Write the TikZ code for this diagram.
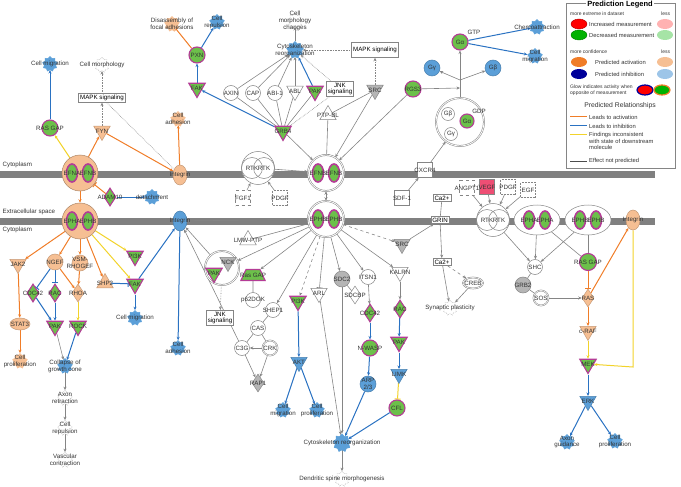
\documentclass[tikz,border=0pt]{standalone}
\usepackage{fontspec}
\setmainfont{Liberation Sans}
\usetikzlibrary{shapes.geometric,arrows.meta}
\definecolor{cgreen}{HTML}{6CC04A}
\definecolor{cmag}{HTML}{B43C96}
\definecolor{clor}{HTML}{F6BF93}
\definecolor{cor}{HTML}{F07D28}
\definecolor{clbl}{HTML}{5B9FD8}
\definecolor{cbl}{HTML}{2A72C2}
\definecolor{cyel}{HTML}{F2D32B}
\definecolor{cgrn}{HTML}{B5B5B5}
\definecolor{cln}{HTML}{858585}
\definecolor{cbar}{HTML}{808080}
\definecolor{cvegf}{HTML}{EE4E74}
\newcommand\fs{\fontsize{6.2}{6.8}\selectfont}
\newcommand\fss{\fontsize{5}{5.6}\selectfont}
\newcommand\fsl{\fontsize{5.8}{6.6}\selectfont}
\pgfdeclarelayer{bglayer}\pgfdeclarelayer{edgelayer}
\pgfsetlayers{bglayer,edgelayer,main}
\tikzset{
 >={Stealth[length=3.5pt,width=3pt]},
 every label/.style={font=\fs,inner sep=0pt,align=center,text=black!80},
 mol/.style={inner sep=0pt,line width=0.5pt},
 gcirc/.style={mol,circle,minimum size=16pt,fill=cgreen,draw=cmag,line width=1.1pt},
 wcirc/.style={mol,circle,minimum size=15pt,fill=white,draw=cln},
 bcirc/.style={mol,circle,minimum size=16pt,fill=clbl,draw=clbl!80!black},
 ocirc/.style={mol,circle,minimum size=16pt,fill=clor,draw=clor!80!black},
 gycirc/.style={mol,circle,minimum size=16pt,fill=cgrn,draw=cln},
 tdown/.style={mol,regular polygon,regular polygon sides=3,shape border rotate=180,minimum size=19pt},
 tup/.style={mol,regular polygon,regular polygon sides=3,minimum size=19pt},
 gtri/.style={tdown,fill=cgreen,draw=cmag,line width=1.1pt},
 otri/.style={tdown,fill=clor,draw=clor!80!black},
 btri/.style={tdown,fill=clbl,draw=clbl!80!black},
 wtri/.style={tdown,fill=white,draw=cln},
 gytri/.style={tdown,fill=cgrn,draw=cln},
 wtup/.style={tup,fill=white,draw=cln},
 otup/.style={tup,fill=clor,draw=clor!80!black},
 dia/.style={mol,diamond,minimum width=12pt,minimum height=18pt},
 gdia/.style={dia,fill=cgreen,draw=cmag,line width=1.1pt},
 odia/.style={dia,fill=clor,draw=clor!80!black},
 wdia/.style={dia,fill=white,draw=cln},
 gydia/.style={dia,fill=cgrn,draw=cln},
 gear/.style={mol,star,star points=9,star point ratio=1.3,minimum size=15pt},
 bgear/.style={gear,fill=clbl,draw=clbl},
 ogear/.style={gear,fill=clor,draw=clor},
 wgear/.style={gear,fill=white,draw=cln!70,densely dotted},
 box/.style={rectangle,draw=cln,fill=white,inner sep=1.5pt,font=\fs,align=center,line width=0.5pt},
 sqbox/.style={mol,rectangle,draw=cln,fill=white,minimum size=15pt},
 txt/.style={font=\fs,inner sep=0.5pt,text=black!80},
 cpo/.style={mol,circle,minimum size=36pt,fill=clor,draw=clor!70!black},
 cpw/.style={mol,circle,minimum size=36pt,fill=white,draw=cln,double,double distance=0.8pt},
 cpe/.style={mol,ellipse,minimum width=46pt,minimum height=30pt,fill=white,draw=cln},
 gell/.style={mol,ellipse,minimum width=11pt,minimum height=18pt,fill=cgreen,draw=cmag,line width=1.6pt},
 integ/.style={mol,ellipse,minimum width=14pt,minimum height=20pt},
 rtkin/.style={mol,circle,draw=cln,minimum size=21pt},
 ge/.style={draw=cln,line width=0.6pt,->},
 be/.style={draw=cbl,line width=1pt,->},
 oe/.style={draw=cor,line width=1pt,->},
 ye/.style={draw=cyel,line width=1pt,->},
 inh/.style={-{Bar[width=6pt]}},
 lege/.style={ellipse,minimum width=16pt,minimum height=10pt,inner sep=0pt},
 legt/.style={font=\fss,anchor=west,inner sep=0pt,text=black!80,align=left},
}
\begin{document}
\begin{tikzpicture}[x=1pt,y=-1pt]
\useasboundingbox (0,0) rectangle (681,487);
\begin{pgfonlayer}{bglayer}
\draw[cbar,line width=7pt] (0,174) -- (655,174);
\draw[cbar,line width=7pt] (0,221) -- (655,221);
\end{pgfonlayer}
% membrane labels
\node[txt,anchor=west] (tcy1) at (2,165) {Cytoplasm};
\node[txt,anchor=west] (tex) at (2,212) {Extracellular space};
\node[txt,anchor=west] (tcy2) at (2,230) {Cytoplasm};
% top-left
\node[bgear,label={center:Cell migration}] (cmig1) at (50,64) {};
\node[gcirc,label={center:RAS GAP}] (rasgap1) at (50,128) {};
\node[wgear,label={center:Cell morphology}] (cmorph) at (102,65) {};
\node[box] (mapk1) at (102,98) {MAPK signaling};
\node[otri,label={center:FYN}] (fyn) at (102,131) {};
\node[ogear,label={center:Cell\\adhesion}] (cadh1) at (178,119) {};
\node[ogear,label={center:Disassembly of\\focal adhesions}] (disas) at (172,24) {};
\node[bgear,label={center:Cell\\repulsion}] (crep1) at (217,22) {};
\node[gcirc,label={center:PXN}] (pxn) at (197,55) {};
\node[gtri,label={center:FAK}] (fak1) at (197,88) {};
% top-middle
\node[wgear,label={center:Cell\\morphology\\changes}] (cmc) at (295,21) {};
\node[bgear,minimum size=17pt,label={center:Cytoskeleton\\reorganization}] (cytre1) at (295,50) {};
\node[wcirc,label={center:AXIN}] (axin) at (231,93) {};
\node[wcirc,label={center:CAP}] (cap) at (253,93) {};
\node[wcirc,label={center:ABI-1}] (abi1) at (275,93) {};
\node[wtri,label={center:ABL}] (abl) at (295,91) {};
\node[gtri,label={center:PAK}] (pak1) at (315,91) {};
\node[box] (jnk1) at (340,89) {JNK\\signaling};
\node[box,minimum width=47pt,minimum height=15pt] (mapk2) at (375,50) {MAPK signaling};
\node[gytri,label={center:SRC}] (src1) at (375,90) {};
\node[wtup,label={center:PTP-BL}] (ptpbl) at (328,115) {};
\node[gtri,label={center:GRB4}] (grb4) at (283,131) {};
\node[gcirc,label={center:RGS3}] (rgs3) at (413,89) {};
\node[bcirc,label={center:Gγ}] (ggam1) at (432,68) {};
\node[gcirc,label={center:Gα}] (galpha1) at (460,42) {};
\node[txt] (gtp) at (474,32) {GTP};
\node[bcirc,label={center:Gβ}] (gbeta1) at (493,68) {};
\node[wcirc,minimum size=48pt,double,double distance=0.8pt] (gcpx) at (460,122) {};
\node[wcirc,minimum size=13pt,label={center:Gβ}] (gb2) at (448,114) {};
\node[gcirc,minimum size=14pt,label={center:Gα}] (ga2) at (467,121) {};
\node[txt] (gdp) at (479,111) {GDP};
\node[wcirc,minimum size=13pt,label={center:Gγ}] (gg2) at (451,134) {};
\node[bgear,label={center:Chemoattraction}] (chemo) at (537,27) {};
\node[bgear,label={center:Cell\\migration}] (cmig2) at (535,56) {};
\coordinate (jct) at (460,80);
\coordinate (jct2) at (460,88);
% membrane complexes
\node[cpo] (cplx1) at (80,173) {};
\node[gell,label={center:EFNA}] (cplx1a) at (72,173) {};
\node[gell,label={center:EFNB}] (cplx1b) at (88,173) {};
\node[cpo] (cplx2) at (80,221) {};
\node[gell,label={center:EPHA}] (cplx2a) at (72,221) {};
\node[gell,label={center:EPHB}] (cplx2b) at (88,221) {};
\node[gdia,label={center:ADAM10}] (adam10) at (110,197) {};
\node[bgear,label={center:detachment}] (detach) at (152,197) {};
\node[integ,fill=clor,draw=clor!80!black,label={center:Integrin}] (integ1) at (180,175) {};
\node[integ,fill=clbl,draw=clbl!80!black,label={center:Integrin}] (integ2) at (180,221) {};
\node[wcirc,minimum size=33pt] (rtk1) at (258,168) {};
\node[rtkin,label={center:RTK}] (rtk1a) at (252,168) {};
\node[rtkin,label={center:RTK}] (rtk1b) at (264,168) {};
\node[sqbox,dashed,label={center:FGF1}] (fgf1) at (243,198) {};
\node[sqbox,densely dotted,label={center:PDGF}] (pdgf1) at (280,198) {};
\node[cpw] (cplx3) at (326,173) {};
\node[gell,label={center:EFNB}] (cplx3a) at (318,173) {};
\node[gell,label={center:EFNB}] (cplx3b) at (334,173) {};
\node[cpw] (cplx4) at (326,219) {};
\node[gell,label={center:EPHB}] (cplx4a) at (318,219) {};
\node[gell,label={center:EPHB}] (cplx4b) at (334,219) {};
\node[sqbox,label={center:CXCR4}] (cxcr4) at (425,170) {};
\node[sqbox,label={center:SDF-1}] (sdf1) at (402,198) {};
\node[box] (ca1) at (442,198) {Ca2+};
\node[box] (grin) at (440,220) {GRIN};
\node[box] (ca2) at (442,262) {Ca2+};
\node[mol,ellipse,minimum width=20pt,minimum height=11pt,draw=cln,fill=white,double,label={center:CREB}] (creb) at (473,283) {};
\node[wgear,label={center:Synaptic plasticity}] (synp) at (450,308) {};
% right
\node[sqbox,dashed,label={center:ANGPT1}] (angpt1) at (467,188) {};
\node[sqbox,fill=cvegf,label={center:VEGF}] (vegf) at (487,187) {};
\node[sqbox,densely dotted,label={center:PDGF}] (pdgf2) at (508,187) {};
\node[sqbox,densely dotted,label={center:EGF}] (egf) at (528,190) {};
\node[wcirc,minimum size=33pt] (rtk2) at (493,220) {};
\node[rtkin,label={center:RTK}] (rtk2a) at (487,220) {};
\node[rtkin,label={center:RTK}] (rtk2b) at (499,220) {};
\node[cpe] (cplx5) at (537,220) {};
\node[gell,label={center:EPHA}] (cplx5a) at (529,220) {};
\node[gell,label={center:EPHA}] (cplx5b) at (545,220) {};
\node[cpe] (cplx6) at (588,220) {};
\node[gell,label={center:EPHB}] (cplx6a) at (580,220) {};
\node[gell,label={center:EPHB}] (cplx6b) at (596,220) {};
\node[integ,fill=clor,draw=clor!80!black,label={center:Integrin}] (integ3) at (633,220) {};
\node[wcirc,label={center:SHC}] (shc) at (535,267) {};
\node[gycirc,label={center:GRB2}] (grb2) at (523,285) {};
\node[wcirc,double,label={center:SOS}] (sos) at (541,298) {};
\node[gcirc,minimum size=17pt,label={center:RAS GAP}] (rasgap2) at (588,262) {};
\node[odia,label={center:RAS}] (ras) at (588,298) {};
\node[otri,label={center:c-RAF}] (craf) at (588,331) {};
\node[gtri,label={center:MEK}] (mek) at (588,364) {};
\node[btri,label={center:ERK}] (erk) at (588,401) {};
\node[bgear,label={center:Axon\\guidance}] (axg) at (567,442) {};
\node[bgear,label={center:Cell\\proliferation}] (cprol2) at (615,441) {};
\coordinate (ycorner) at (633,367);
% lower left
\node[otri,label={center:JAK2}] (jak2) at (18,264) {};
\node[ocirc,label={center:NGEF}] (ngef) at (55,262) {};
\node[ocirc,label={center:VSM-\\RHOGEF}] (vsm) at (80,263) {};
\node[gtri,label={center:PI3K}] (pi3k1) at (135,256) {};
\node[otup,label={center:SHP2}] (shp2) at (105,283) {};
\node[gtri,label={center:FAK}] (fak2) at (135,284) {};
\node[gdia,label={center:CDC42}] (cdc42a) at (33,293) {};
\node[gdia,label={center:RAC}] (rac1) at (55,293) {};
\node[odia,label={center:RHOA}] (rhoa) at (78,293) {};
\node[bgear,label={center:Cell migration}] (cmig3) at (135,318) {};
\node[mol,ellipse,minimum width=20pt,minimum height=12pt,fill=clor,draw=clor!80!black,label={center:STAT3}] (stat3) at (20,324) {};
\node[gtri,label={center:PAK}] (pak2) at (55,326) {};
\node[gtri,label={center:ROCK}] (rock) at (78,326) {};
\node[ogear,label={center:Cell\\proliferation}] (cprol1) at (20,361) {};
\node[bgear,label={center:Collapse of\\growth cone}] (collapse) at (65,366) {};
\node[wgear,label={center:Axon\\retraction}] (axret) at (65,398) {};
\node[wgear,label={center:Cell\\repulsion}] (crep2) at (65,428) {};
\node[wgear,label={center:Vascular\\contraction}] (vasc) at (65,460) {};
\node[bgear,label={center:Cell\\adhesion}] (cadh2) at (178,348) {};
% lower middle
\node[wtup,label={center:LMW-PTP}] (lmw) at (248,240) {};
\node[wcirc,minimum size=34pt,double,double distance=0.8pt] (nck) at (222,268) {};
\node[gytri,label={center:NCK}] (nckn) at (228,262) {};
\node[gtri,label={center:PAK}] (nckp) at (214,273) {};
\node[mol,trapezium,trapezium left angle=65,trapezium right angle=65,fill=cgreen,draw=cmag,line width=1.1pt,inner sep=1pt,label={center:Ras GAP}] (rasgap3) at (253,275) {\rule{12pt}{0pt}\rule{0pt}{9pt}};
\node[wcirc,label={center:p62DOK}] (p62) at (253,300) {};
\node[wcirc,label={center:SHEP1}] (shep1) at (273,310) {};
\node[box] (jnk2) at (220,318) {JNK\\signaling};
\node[wcirc,label={center:CAS}] (cas) at (258,328) {};
\node[wcirc,label={center:C3G}] (c3g) at (242,348) {};
\node[wcirc,double,label={center:CRK}] (crk) at (270,348) {};
\node[gydia,label={center:RAP1}] (rap1) at (258,383) {};
\node[gtri,label={center:PI3K}] (pi3k2) at (298,301) {};
\node[wtri,label={center:ARL}] (arl) at (319,293) {};
\node[gycirc,label={center:SDC2}] (sdc2) at (342,279) {};
\node[wdia,label={center:SDCBP}] (sdcbp) at (355,295) {};
\node[wcirc,label={center:ITSN1}] (itsn1) at (368,277) {};
\node[gdia,label={center:CDC42}] (cdc42b) at (370,313) {};
\node[gcirc,label={center:N-WASP}] (nwasp) at (370,348) {};
\node[bcirc,label={center:ARP\\2/3}] (arp) at (368,384) {};
\node[wtri,label={center:KALRN}] (kalrn) at (400,272) {};
\node[gdia,label={center:RAC}] (rac2) at (400,309) {};
\node[gtri,label={center:PAK}] (pak3) at (399,342) {};
\node[btri,label={center:LIMK}] (limk) at (399,374) {};
\node[gcirc,label={center:CFL}] (cfl) at (397,408) {};
\node[btri,label={center:AKT}] (akt) at (299,362) {};
\node[bgear,label={center:Cell\\migration}] (cmig4) at (283,410) {};
\node[bgear,label={center:Cell\\proliferation}] (cprol3) at (317,410) {};
\node[bgear,minimum size=18pt,label={center:Cytoskeleton reorganization}] (cytre2) at (342,443) {};
\node[wgear,label={center:Dendritic spine morphogenesis}] (dsm) at (342,479) {};
\node[gytri,label={center:SRC}] (src2) at (402,244) {};
% legend
\node[draw=cln,line width=0.5pt,minimum width=109pt,minimum height=165pt,anchor=north west,inner sep=0pt] (legbox) at (566,3) {};
\node[fill=white,font=\bfseries\fontsize{7.5}{8}\selectfont,inner sep=1pt] (legtitle) at (620,5) {Prediction Legend};
\node[legt] (l1) at (570,14) {more extreme in dataset};
\node[legt] (l1b) at (661,14) {less};
\node[lege,fill=red,draw=red!70!black] (e1) at (579,24) {};
\node[legt,font=\fsl] (t1) at (589,24) {Increased measurement};
\node[lege,fill=red!30] (e1b) at (665,24) {};
\node[lege,fill=green!70!black,draw=green!50!black] (e2) at (579,35) {};
\node[legt,font=\fsl] (t2) at (589,35) {Decreased measurement};
\node[lege,fill=green!70!black!35] (e2b) at (665,35) {};
\node[legt] (l2) at (570,52) {more confidence};
\node[legt] (l2b) at (661,52) {less};
\node[lege,fill=cor] (e3) at (579,62) {};
\node[legt,font=\fsl] (t3) at (595,62) {Predicted activation};
\node[lege,fill=clor] (e3b) at (665,62) {};
\node[lege,fill=blue!60!black] (e4) at (579,74) {};
\node[legt,font=\fsl] (t4) at (595,74) {Predicted inhibition};
\node[lege,fill=clbl!60] (e4b) at (665,74) {};
\node[legt] (t5) at (570,90) {Glow indicates activity when\\opposite of measurement};
\node[lege,fill=red,draw=blue!60!black,line width=1.2pt] (e5) at (645,90) {};
\node[lege,fill=green!70!black,draw=cor,line width=1.2pt] (e6) at (662,90) {};
\node[font=\fontsize{6.8}{7.5}\selectfont,text=black!80] (t6) at (620,106) {Predicted Relationships};
\draw[cor,line width=1pt] (570,117) -- (587,117);
\node[legt,font=\fsl] (t7) at (589,117) {Leads to activation};
\draw[cbl,line width=1pt] (570,126) -- (587,126);
\node[legt,font=\fsl] (t8) at (589,126) {Leads to inhibition};
\draw[cyel,line width=1pt] (570,135) -- (587,135);
\node[legt,font=\fsl,anchor=north west] (t9) at (589,132) {Findings inconsistent\\with state of downstream\\molecule};
\draw[black!70,line width=1pt] (570,161) -- (587,161);
\node[legt,font=\fsl] (t10) at (589,161) {Effect not predicted};
% edges
\begin{pgfonlayer}{edgelayer}
\draw[be] (rasgap1) -- (cmig1);
\draw[ye] (cplx1) -- (rasgap1);
\draw[oe] (cplx1) -- (fyn);
\draw[ge,densely dotted] (fyn) -- (mapk1);
\draw[ge,densely dotted] (mapk1) -- (cmorph);
\draw[ge,densely dotted,-] (mapk1) -- (integ1);
\draw[oe] (fyn) -- (integ1);
\draw[oe] (integ1) -- (cadh1);
\draw[oe] (cplx1) -- (cplx2);
\draw[oe,inh] (adam10) -- (cplx1);
\draw[be] (adam10) -- (detach);
\draw[oe,inh] (pxn) -- (disas);
\draw[be] (pxn) -- (crep1);
\draw[be] (fak1) -- (pxn);
\draw[be] (grb4) -- (fak1);
\draw[ge,-] (grb4) -- (axin);
\draw[ge,-] (grb4) -- (cap);
\draw[ge,-] (grb4) -- (abi1);
\draw[ge,-] (grb4) -- (abl);
\draw[ge,-] (grb4) -- (pak1);
\draw[ge,-,densely dotted] (grb4) -- (jnk1);
\draw[ge] (axin) -- (cytre1);
\draw[ge] (cap) -- (cytre1);
\draw[ge] (abi1) -- (cytre1);
\draw[ge] (abl) -- (cytre1);
\draw[be] (pak1) -- (cytre1);
\draw[ge,densely dotted] (jnk1) -- (cytre1);
\draw[ge,densely dotted] (mapk2) -- (cytre1);
\draw[ge] (cytre1) -- (cmc);
\draw[ge,densely dotted] (src1) -- (mapk2);
\draw[ge,-] (ptpbl) -- (src1);
\draw[ge,inh] (ptpbl) -- (cplx3);
\draw[ge] (grb4) -- (cplx3);
\draw[ge] (src1) -- (cplx3);
\draw[ge] (rgs3) -- (cplx3);
\draw[ge] (rgs3) -- (jct2);
\draw[ge,-] (gcpx) -- (jct);
\draw[ge] (jct) -- (galpha1);
\draw[ge] (jct) -- (ggam1);
\draw[ge] (jct) -- (gbeta1);
\draw[be] (galpha1) -- (chemo);
\draw[be] (galpha1) -- (cmig2);
\draw[ge] (cxcr4) -- (gcpx);
\draw[ge] (sdf1) -- (cxcr4);
\draw[ge] (rtk1) -- (cplx3);
\draw[ge] (fgf1) -- (rtk1);
\draw[ge] (pdgf1) -- (rtk1);
\draw[ge,<->] (cplx3) -- (cplx4);
% from lower middle complex
\draw[ge] (cplx4) -- (integ2);
\draw[ge,-] (cplx4) -- (lmw);
\draw[ge] (cplx4) -- (nck);
\draw[ge] (cplx4) -- (rasgap3);
\draw[ge] (cplx4) -- (shep1);
\draw[ge,dashed] (cplx4) -- (pi3k2);
\draw[ge,inh] (cplx4) -- (arl);
\draw[ge] (cplx4) -- (sdc2);
\draw[ge] (cplx4) -- (itsn1);
\draw[ge] (cplx4) -- (kalrn);
\draw[ge,dashed] (cplx4) -- (src2);
\draw[ge] (src2) -- (grin);
\draw[ge,-] (ca1) -- (grin);
\draw[ge] (grin) -- (ca2);
\draw[ge] (ca2) -- (synp);
\draw[ge,dashed] (ca2) -- (creb);
\draw[ge] (creb) -- (synp);
\draw[ge] (nck) -- (integ2);
\draw[ge] (c3g) -- (integ2);
\draw[ge,densely dotted] (nck) -- (jnk2);
\draw[be] (integ2) -- (cadh2);
\draw[be] (fak2) -- (integ2);
\draw[ge,-] (rasgap3) -- (p62);
\draw[ge,-] (shep1) -- (cas);
\draw[ge,-] (cas) -- (c3g);
\draw[ge,-] (cas) -- (crk);
\draw[ge] (crk) -- (c3g);
\draw[ge] (c3g) -- (rap1);
\draw[ge] (crk) -- (rap1);
\draw[be] (pi3k2) -- (akt);
\draw[be] (akt) -- (cmig4);
\draw[be] (akt) -- (cprol3);
\draw[ge] (arl) -- (cytre2);
\draw[ge] (sdc2) -- (cytre2);
\draw[ge,-] (sdc2) -- (sdcbp);
\draw[ge] (itsn1) -- (cdc42b);
\draw[be] (cdc42b) -- (nwasp);
\draw[be] (nwasp) -- (arp);
\draw[be] (arp) -- (cytre2);
\draw[ge] (kalrn) -- (rac2);
\draw[be] (rac2) -- (pak3);
\draw[be] (pak3) -- (limk);
\draw[ye,inh] (limk) -- (cfl);
\draw[be] (cfl) -- (cytre2);
\draw[ge] (cytre2) -- (dsm);
% lower left
\draw[oe] (cplx2) -- (jak2);
\draw[oe] (cplx2) -- (ngef);
\draw[oe] (cplx2) -- (vsm);
\draw[oe] (cplx2) -- (shp2);
\draw[ye] (cplx2) -- (pi3k1);
\draw[ye] (cplx2) -- (fak2);
\draw[be,inh] (ngef) -- (cdc42a);
\draw[be,inh] (ngef) -- (rac1);
\draw[oe] (ngef) -- (rhoa);
\draw[oe] (vsm) -- (rhoa);
\draw[be,inh] (shp2) -- (fak2);
\draw[be] (fak2) -- (cmig3);
\draw[oe] (jak2) -- (stat3);
\draw[oe] (stat3) -- (cprol1);
\draw[be] (cdc42a) -- (pak2);
\draw[be] (rac1) -- (pak2);
\draw[ye] (rhoa) -- (rock);
\draw[ge] (pak2) -- (collapse);
\draw[be] (rock) -- (collapse);
\draw[ge] (collapse) -- (axret);
\draw[ge] (axret) -- (crep2);
\draw[ge] (crep2) -- (vasc);
% right
\draw[ge] (angpt1) -- (rtk2);
\draw[ge] (vegf) -- (rtk2);
\draw[ge] (pdgf2) -- (rtk2);
\draw[ge] (egf) -- (rtk2);
\draw[ge] (rtk2) -- (shc);
\draw[ge] (cplx5) -- (shc);
\draw[ge] (cplx6) -- (shc);
\draw[ge,-] (cplx5) -- (rasgap2);
\draw[ge,-] (cplx6) -- (rasgap2);
\draw[ge,-] (shc) -- (grb2);
\draw[ge,-] (grb2) -- (sos);
\draw[ge] (sos) -- (ras);
\draw[oe,inh] (rasgap2) -- (ras);
\draw[oe] (ras) -- (integ3);
\draw[oe] (ras) -- (craf);
\draw[ye] (craf) -- (mek);
\draw[ye] (integ3) -- (ycorner) -- (mek);
\draw[be] (mek) -- (erk);
\draw[be] (erk) -- (axg);
\draw[be] (erk) -- (cprol2);
\end{pgfonlayer}
\end{tikzpicture}
\end{document}
